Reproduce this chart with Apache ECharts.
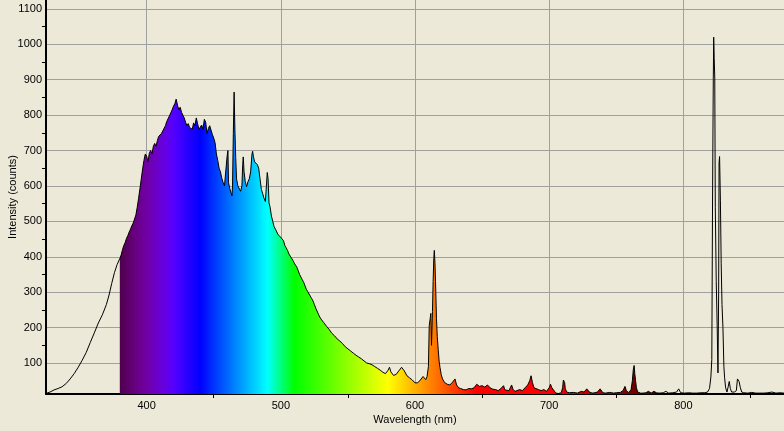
<!DOCTYPE html>
<html><head><meta charset="utf-8">
<script src="https://cdn.jsdelivr.net/npm/echarts@6/dist/echarts.min.js"></script>
<style>html,body{margin:0;padding:0;background:#ECE9D8;}#c{width:784px;height:431px;}</style>
</head><body><div id="c"></div>
<script>
// Wavelength samples (nm) and intensity (counts)
const wavelength = [325,328,331,334,337,340,343,346,349,352,355,358,361,364,367,370,372,374,376,378,
380,381,382,383,384,385,386,387,388,389,390,391,392,393,394,395,396,397,398,399,
400,401,402,403,404,405,406,407,408,409,410,411,412,413,414,415,416,417,418,419,
420,421,422,423,424,425,426,427,428,429,430,431,432,433,434,435,436,437,438,439,
440,441,442,443,444,445,446,447,448,449,450,451,452,453,454,455,456,457,458,459,
460,460.6,461,462,463,463.6,464,464.6,465.2,465.8,466.4,467,468,469,470,471,471.6,472,472.6,473.5,
474.5,475.5,476.5,477.5,478.5,479,479.6,480.5,481.5,482.5,483.5,484.5,485.5,486.5,487.5,488.5,489.4,489.9,490.5,491.2,
492,493,494,495,496,497,498,499,500,501,502,503,504,505,506,507,508,509,510,511,
512,513,514,515,516,517,518,519,520,521,522,523,524,525,526,527,528,529,530,532,
534,536,538,540,542,544,546,548,550,552,554,556,558,560,562,564,566,568,570,572,
574,576,578,580,581,582,584,586,588,590,591,592,594,596,598,600,602,604,606,607,
608,609,610,610.6,611.3,611.8,612.3,613,613.5,614,614.4,614.9,615.3,616,616.6,617.3,618,618.6,619.5,620.5,
622,624,626,628,629.8,631,632.5,634,636,638,640,642,644,646,648,650,652,654,656,658,
660,662,664,666,667,668,670,672,673,674.5,676,678,680,682,684,685.5,686.5,687.5,688.7,690,
692,694,696,698,700,701,702,703,705,707,709,710,710.6,711,711.5,712,713,715,718,721,
724,726,728,730,732,734,736,738,740,742,745,748,750,753,755,756.5,757.5,759,761,762,
762.7,763.3,763.8,764.4,765,766,768,770,772,774,776,778,780,782,785,787,789,792,795,796.5,
798,801,804,807,810,813,816,818,819.5,820.5,821.2,821.8,822.3,822.6,823,823.4,823.8,824.5,825.2,825.8,
826.3,826.6,827,827.6,828.2,828.8,829.5,830.2,830.7,831.5,832.5,833.5,834.2,835,836,838,839.5,840.3,840.8,841.5,
842.5,843.5,845,848,851,854,857,860,863,866,869,872,875];
const counts = [14,18,24,28,33,42,55,70,88,108,130,158,185,213,236,265,292,325,355,378,
395,405,420,432,440,452,460,470,478,488,495,500,518,540,565,592,620,648,672,690,
684,668,692,700,690,712,720,712,728,740,735,748,755,760,770,782,790,798,806,815,
825,832,845,828,815,822,808,800,792,780,770,776,765,768,760,778,770,792,775,760,
765,772,760,788,780,748,762,770,766,745,735,722,690,672,650,640,622,610,600,602,
685,700,610,592,588,572,600,748,865,755,680,620,600,596,585,600,660,682,640,612,
598,612,620,640,690,698,682,668,672,660,650,620,590,578,565,556,560,638,620,552,
540,515,500,485,478,470,462,460,455,450,445,432,425,418,408,402,398,390,382,376,
370,360,350,345,335,328,318,308,302,295,290,282,275,265,255,250,238,230,224,214,
204,195,184,177,168,162,155,146,140,134,128,122,117,112,106,100,98,95,90,85,
80,74,70,80,88,75,65,68,78,88,92,78,64,58,52,44,44,52,62,58,
53,62,90,205,225,240,150,245,330,395,418,380,330,225,175,138,105,88,68,55,
45,40,38,46,55,38,30,28,25,24,28,27,30,40,34,36,32,38,30,26,
25,22,28,36,24,20,22,38,26,20,22,25,22,30,38,50,64,45,30,26,
25,22,25,20,30,40,30,25,15,14,16,30,52,57,45,28,18,16,17,15,
20,18,27,18,15,16,18,27,16,15,17,15,16,17,22,34,22,17,24,50,
82,93,70,50,30,18,15,15,16,20,15,20,16,15,16,20,15,16,18,27,
16,15,16,15,15,16,16,18,28,60,110,600,900,1020,960,905,540,330,205,72,
300,665,683,560,380,265,200,90,60,30,18,35,48,28,18,18,22,55,60,48,
30,18,16,15,17,15,15,15,16,18,15,16,15];
// Axis tick label values
const xLabels = [400,500,600,700,800];
const yLabels = [100,200,300,400,500,600,700,800,900,1000,1100];
const xMinorTicks = [450,550,650,750,850];
const yMinorTicks = [150,250,350,450,550,650,750,850,950,1050];
const fillStart = 380, fillEnd = 780;

const all = wavelength.map((w,i)=>[w,counts[i]]);
const fillData = all.filter(p=>p[0]>=fillStart && p[0]<=fillEnd);

function wlColor(w){
  let r=0,g=0,b=0;
  if(w<440){r=-(w-440)/60;b=1;}
  else if(w<490){g=(w-440)/50;b=1;}
  else if(w<510){g=1;b=-(w-510)/20;}
  else if(w<580){r=(w-510)/70;g=1;}
  else if(w<645){r=1;g=-(w-645)/65;}
  else {r=1;}
  let f=1;
  if(w<420) f=0.3+0.7*(w-380)/40; else if(w>700) f=0.3+0.7*(780-w)/80;
  const c=v=>Math.max(0,Math.min(255,Math.round(255*v*f)));
  return 'rgb('+c(r)+','+c(g)+','+c(b)+')';
}
const stops=[];
for(let w=fillStart; w<=fillEnd; w+=2){stops.push({offset:(w-fillStart)/(fillEnd-fillStart),color:wlColor(w)});}

const font='Liberation Sans, Arial, sans-serif';
const XMIN=325, XMAX=875, YMIN=12.5, YMAX=1125;
const chart = echarts.init(document.getElementById('c'), null, {renderer:'canvas'});
const option = {
  animation:false,
  backgroundColor:'#ECE9D8',
  grid:{left:46,right:0,top:0,bottom:37,containLabel:false,outerBoundsMode:'none'},
  xAxis:[{
    type:'value', min:XMIN, max:XMAX, minInterval:100, maxInterval:100, splitNumber:5,
    name:'Wavelength (nm)', nameLocation:'middle', nameGap:20, nameMoveOverlap:false,
    nameTextStyle:{color:'#000',fontSize:11,fontFamily:font},
    axisLine:{show:true,onZero:false,lineStyle:{color:'#000',width:2}},
    axisTick:{show:false},
    axisLabel:{color:'#000',fontSize:11,fontFamily:font,margin:6,
      formatter:v=>xLabels.indexOf(v)>=0?String(v):''},
    splitLine:{show:true,showMinLine:false,showMaxLine:false,lineStyle:{color:'#a0a0a0',width:1}}
  },{
    type:'value', min:XMIN, max:XMAX, position:'bottom',
    axisLine:{show:false,onZero:false}, axisLabel:{show:false}, splitLine:{show:false},
    axisTick:{show:true,customValues:xMinorTicks,length:4,lineStyle:{color:'#000',width:1}}
  }],
  yAxis:[{
    type:'value', min:YMIN, max:YMAX, minInterval:100, maxInterval:100, splitNumber:11,
    name:'Intensity (counts)', nameLocation:'middle', nameGap:28, nameMoveOverlap:false,
    nameTextStyle:{color:'#000',fontSize:11,fontFamily:font},
    axisLine:{show:true,onZero:false,lineStyle:{color:'#000',width:2}},
    axisTick:{show:false},
    axisLabel:{color:'#000',fontSize:11,fontFamily:font,margin:4,
      formatter:v=>yLabels.indexOf(v)>=0?String(v):''},
    splitLine:{show:true,showMinLine:false,showMaxLine:false,lineStyle:{color:'#a0a0a0',width:1}}
  },{
    type:'value', min:YMIN, max:YMAX, position:'left',
    axisLine:{show:false,onZero:false}, axisLabel:{show:false}, splitLine:{show:false},
    axisTick:{show:true,customValues:yMinorTicks,length:4,lineStyle:{color:'#000',width:1}}
  }],
  series:[
    {id:'fill',type:'line',data:fillData,showSymbol:false,symbol:'none',z:2,
     lineStyle:{width:0,opacity:0},areaStyle:{color:'#888',opacity:1,origin:'start'},silent:true},
    {id:'line',type:'line',data:all,showSymbol:false,symbol:'none',z:3,
     lineStyle:{color:'#000',width:1},silent:true}
  ]
};
chart.setOption(option);
const x1 = chart.convertToPixel({xAxisIndex:0}, fillStart);
const x2 = chart.convertToPixel({xAxisIndex:0}, fillEnd);
chart.setOption({series:[{id:'fill',areaStyle:{color:new echarts.graphic.LinearGradient(x1,0,x2,0,stops,true),opacity:1}}]});
</script></body></html>
